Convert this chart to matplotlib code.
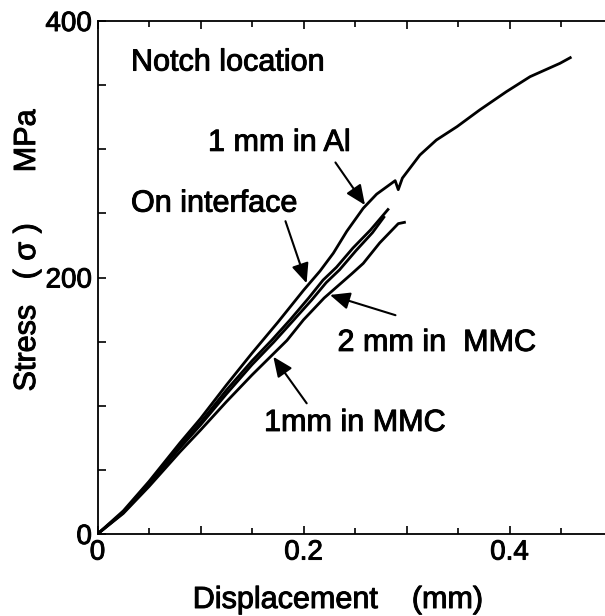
import matplotlib
matplotlib.use("Agg")
import matplotlib.pyplot as plt
import matplotlib.patheffects as pe
from matplotlib.ticker import MultipleLocator, FuncFormatter

plt.rcParams['font.family'] = ['Liberation Sans', 'DejaVu Sans']

# displacement (mm) / stress (MPa)
al_x = [0, 0.025, 0.05, 0.08, 0.10, 0.125, 0.15, 0.175, 0.20, 0.216, 0.229, 0.242,
        0.258, 0.271, 0.289, 0.292, 0.296, 0.313, 0.329, 0.349, 0.371, 0.397,
        0.420, 0.449, 0.459]
al_y = [0, 18, 41, 71, 90, 116, 141, 165, 190, 205, 219, 236,
        254, 265, 275.5, 268.5, 277.5, 295.5, 307.2, 317.6, 330.6, 344.9,
        356.6, 367, 371.4]

iface_x = [0, 0.025, 0.05, 0.08, 0.10, 0.125, 0.15, 0.169, 0.187, 0.205, 0.219, 0.232,
           0.248, 0.265, 0.282]
iface_y = [0, 17, 40, 69, 87, 112, 135, 151, 167, 184, 198, 208, 223, 237, 253]

mmc1_x = [0, 0.025, 0.05, 0.08, 0.10, 0.125, 0.15, 0.171, 0.189, 0.208, 0.222, 0.235,
          0.251, 0.267, 0.278]
mmc1_y = [0, 16.5, 39, 67, 85, 109, 132, 149.5, 165.5, 182.5, 196, 206, 221, 235, 247]

mmc2_x = [0, 0.025, 0.05, 0.08, 0.10, 0.125, 0.15, 0.184, 0.200, 0.22, 0.247, 0.258,
          0.274, 0.292, 0.298]
mmc2_y = [0, 16, 37, 64, 81, 103, 124, 151, 167, 184, 203, 211, 227, 242, 243]


def main():
    fig = plt.figure(figsize=(6.05, 6.16), dpi=100)
    ax = fig.add_axes([97.5 / 605, 1 - 534 / 616, 515 / 605, 513 / 616])

    for xs, ys in [(al_x, al_y), (iface_x, iface_y), (mmc1_x, mmc1_y), (mmc2_x, mmc2_y)]:
        ax.plot(xs, ys, color='black', lw=2.0, solid_joinstyle='round')

    ax.set_xlim(0, 0.5)
    ax.set_ylim(0, 400)
    ax.xaxis.set_major_locator(MultipleLocator(0.1))
    ax.xaxis.set_minor_locator(MultipleLocator(0.05))
    ax.yaxis.set_major_locator(MultipleLocator(50))
    ax.xaxis.set_major_formatter(FuncFormatter(
        lambda v, p: ('0' if abs(v) < 1e-9 else '%.1f' % v) if round(v * 10) % 2 == 0 else ''))
    ax.yaxis.set_major_formatter(FuncFormatter(
        lambda v, p: '%d' % v if round(v) % 200 == 0 else ''))
    ax.tick_params(which='both', direction='in', top=True, right=True, labelsize=20,
                   width=1.2, color='black')
    ax.tick_params(which='major', length=6, pad=4)
    ax.tick_params(which='minor', length=4)
    for s in ax.spines.values():
        s.set_linewidth(1.3)

    # scanned original has slightly heavy lettering
    heavy = [pe.withStroke(linewidth=0.7, foreground='black')]
    for lab in ax.get_xticklabels() + ax.get_yticklabels():
        lab.set_path_effects(heavy)

    fs = 22
    ax.text(0.0325, 367.6, 'Notch location', fontsize=fs, ha='left', va='center', path_effects=heavy)
    ax.text(0.1073, 305, '1 mm in Al', fontsize=fs, ha='left', va='center', path_effects=heavy)
    ax.text(0.0325, 257.6, 'On interface', fontsize=fs, ha='left', va='center', path_effects=heavy)
    ax.text(0.233, 149, '2 mm in  MMC', fontsize=fs, ha='left', va='center', path_effects=heavy)
    ax.text(0.1617, 86.6, '1mm in MMC', fontsize=fs, ha='left', va='center', path_effects=heavy)

    arrows = [((0.2597, 256.5), (0.231, 289.7)),
              ((0.203, 195.5), (0.1825, 243.9)),
              ((0.2257, 186.4), (0.2893, 170.6)),
              ((0.1707, 138.2), (0.2031, 101.9))]
    for tip, tail in arrows:
        ax.annotate('', xy=tip, xytext=tail,
                    arrowprops=dict(arrowstyle='-|>,head_length=0.8,head_width=0.35',
                                    mutation_scale=15, color='black', lw=1.5,
                                    shrinkA=0, shrinkB=0))

    fig.text(337.5 / 605, 1 - 608 / 616, 'Displacement    (mm)', fontsize=fs,
             ha='center', va='baseline', path_effects=heavy)
    fig.text(27 / 605, 1 - 250.5 / 616, 'Stress   ( σ )      MPa', fontsize=fs,
             ha='center', va='center', rotation=90, path_effects=heavy)

    fig.savefig('out.png', dpi=100)


if __name__ == "__main__":
    main()
